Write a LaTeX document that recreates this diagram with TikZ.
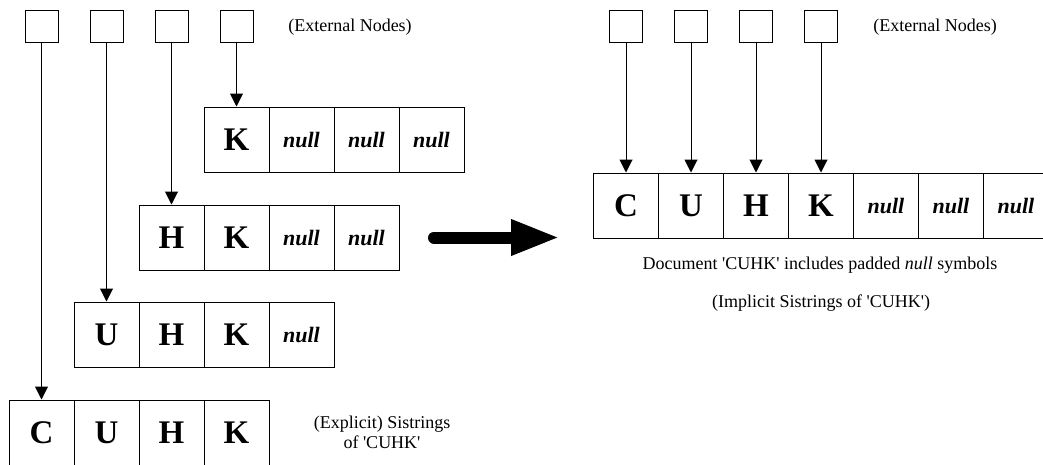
\documentclass[tikz,border=0pt]{standalone}
\usepackage{fontspec}
\setmainfont{Liberation Serif}
\usetikzlibrary{arrows.meta}
\newcommand{\sq}{\textquotesingle}
\begin{document}
\begin{tikzpicture}[x=1pt,y=-1pt,
  extnode/.style={draw, line width=1pt, minimum width=33pt, minimum height=32pt, inner sep=0pt},
  cell/.style={draw, line width=1pt, minimum width=65pt, minimum height=65pt, inner sep=0pt,
    font=\fontsize{33}{33}\selectfont\bfseries},
  nullcell/.style={cell, font=\fontsize{22}{22}\selectfont\bfseries\itshape},
  caption/.style={font=\fontsize{18}{20}\selectfont, align=center, inner sep=0pt},
  pointer/.style={line width=1pt, -{Triangle[length=13pt,width=13pt]}},
  bigarrow/.style={line width=12pt, line cap=round, -{Triangle[length=49pt,width=33pt]}}
]
\useasboundingbox (0,0) rectangle (1043,464);

% ---- explicit sistrings (left) ----
\node[extnode] (e1) at (41.5,26) {};
\node[extnode] (e2) at (106.5,26) {};
\node[extnode] (e3) at (171.5,26) {};
\node[extnode] (e4) at (236.5,26) {};
\node[caption] (extL) at (350,27) {(External Nodes)};

\node[cell]     (k1) at (236.5,139.5) {K};
\node[nullcell] (k2) at (301.5,139.5) {null};
\node[nullcell] (k3) at (366.5,139.5) {null};
\node[nullcell] (k4) at (431.5,139.5) {null};

\node[cell]     (h1) at (171.5,237.5) {H};
\node[cell]     (h2) at (236.5,237.5) {K};
\node[nullcell] (h3) at (301.5,237.5) {null};
\node[nullcell] (h4) at (366.5,237.5) {null};

\node[cell]     (u1) at (106.5,334.5) {U};
\node[cell]     (u2) at (171.5,334.5) {H};
\node[cell]     (u3) at (236.5,334.5) {K};
\node[nullcell] (u4) at (301.5,334.5) {null};

\node[cell] (c1) at (41.5,432.5) {C};
\node[cell] (c2) at (106.5,432.5) {U};
\node[cell] (c3) at (171.5,432.5) {H};
\node[cell] (c4) at (236.5,432.5) {K};

\draw[pointer] (e1.south) -- (c1.north);
\draw[pointer] (e2.south) -- (u1.north);
\draw[pointer] (e3.south) -- (h1.north);
\draw[pointer] (e4.south) -- (k1.north);

\node[caption] (expl) at (382,432) {(Explicit) Sistrings\\of \sq CUHK\sq};

% ---- transformation arrow ----
\coordinate (bs) at (434,237.5);
\coordinate (be) at (560,237.5);
\draw[bigarrow] (bs) -- (be);

% ---- implicit sistrings (right) ----
\node[extnode] (f1) at (626,26) {};
\node[extnode] (f2) at (691,26) {};
\node[extnode] (f3) at (756,26) {};
\node[extnode] (f4) at (821,26) {};
\node[caption] (extR) at (935,27) {(External Nodes)};

\node[cell]     (d1) at (626,205.5) {C};
\node[cell]     (d2) at (691,205.5) {U};
\node[cell]     (d3) at (756,205.5) {H};
\node[cell]     (d4) at (821,205.5) {K};
\node[nullcell] (d5) at (886,205.5) {null};
\node[nullcell] (d6) at (951,205.5) {null};
\node[nullcell] (d7) at (1016,205.5) {null};

\draw[pointer] (f1.south) -- (d1.north);
\draw[pointer] (f2.south) -- (d2.north);
\draw[pointer] (f3.south) -- (d3.north);
\draw[pointer] (f4.south) -- (d4.north);

\node[caption] (doc) at (820,265) {Document \sq CUHK\sq{} includes padded \textit{null} symbols};
\node[caption] (impl) at (821,303) {(Implicit Sistrings of \sq CUHK\sq)};
\end{tikzpicture}
\end{document}
